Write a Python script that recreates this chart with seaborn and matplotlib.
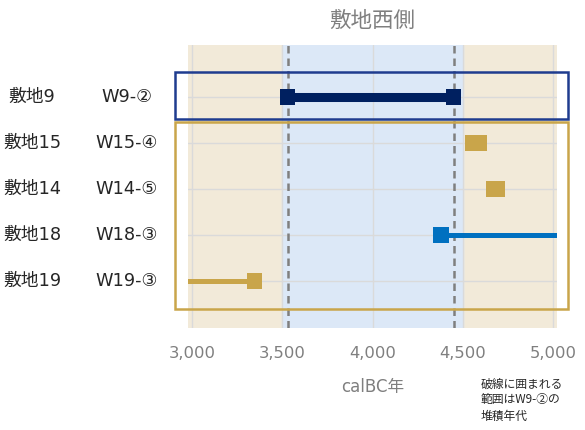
import numpy as np
import pandas as pd
import matplotlib
matplotlib.use("Agg")
import matplotlib.pyplot as plt
import matplotlib.transforms as mtransforms
from matplotlib.patches import Rectangle
import seaborn as sns

sns.set_style("white")
plt.rcParams['font.family'] = ['DejaVu Sans', 'Noto Sans CJK JP']

# data
sites = ['敷地9', '敷地15', '敷地14', '敷地18', '敷地19']
samples = ['W9-②', 'W15-④', 'W14-⑤', 'W18-③', 'W19-③']
start = [3530, 4555, 4670, 4380, 2900]
end = [4450, 4590, 4690, 5100, 3345]
colors = ['#002060', '#C9A54A', '#C9A54A', '#0070C0', '#C9A54A']
xticks = [3000, 3500, 4000, 4500, 5000]
range_lo, range_hi = 3500, 4500
dep_lo, dep_hi = 3530, 4450

df = pd.DataFrame({'sample': samples * 2, 'year': start + end,
                   'row': list(range(5)) * 2, 'color': colors * 2})

fig = plt.figure(figsize=(5.85, 4.3), dpi=100)
ax = fig.add_axes([188/585, (430-328)/430, 369/585, (328-45)/430])
ax.set_facecolor('#F2EAD9')
ax.axvspan(range_lo, range_hi, color='#DCE8F7', zorder=0)

for x in xticks:
    ax.axvline(x, color='#DADADA', lw=1, zorder=1)
for i in range(5):
    ax.axhline(i, color='#DADADA', lw=1, zorder=1)

ax.axvline(dep_lo, color='#7F7F7F', ls=(0, (3, 2)), lw=1.8, zorder=2)
ax.axvline(dep_hi, color='#7F7F7F', ls=(0, (3, 2)), lw=1.8, zorder=2)

# range lines
for i in range(5):
    lw = 6.5 if i == 0 else 3.6
    ax.plot([start[i], end[i]], [i, i], color=colors[i], lw=lw,
            solid_capstyle='butt', zorder=3)

sns.scatterplot(data=df, x='year', y='row', hue='sample',
                palette=dict(zip(samples, colors)), marker='s', s=120,
                linewidth=0, legend=False, zorder=4, ax=ax)

ax.set_xlim(2978, 5022)
ax.set_ylim(5.02, -1.13)
ax.set_xticks(xticks)
ax.set_xticklabels([f'{x:,}' for x in xticks], fontsize=11.8, color='#7F7F7F')
ax.tick_params(axis='x', length=0, pad=13)
ax.set_yticks([])
ax.set_xlabel('calBC年', fontsize=12, color='#7F7F7F', labelpad=12)
ax.set_ylabel('')
ax.set_title('敷地西側', fontsize=15.5, color='#7F7F7F', pad=13,
             family=['Noto Sans CJK JP'])
for s in ax.spines.values():
    s.set_visible(False)

trans = mtransforms.blended_transform_factory(fig.transFigure, ax.transData)
for i in range(5):
    ax.text(32/585, i, sites[i], transform=trans, ha='center', va='center',
            fontsize=12.8, color='#262626')
    ax.text(127/585, i, samples[i], transform=trans, ha='center', va='center',
            fontsize=12.8, color='#262626')

# group boxes
fig.patches.append(Rectangle((175/585, (430-119)/430), 393/585, 47/430,
                             transform=fig.transFigure, fill=False,
                             edgecolor='#1F3C8F', lw=1.8))
fig.patches.append(Rectangle((175/585, (430-309)/430), 393/585, 187/430,
                             transform=fig.transFigure, fill=False,
                             edgecolor='#C9A54A', lw=1.8))

fig.text(481/585, (430-400)/430, '破線に囲まれる\n範囲はW9-②の\n堆積年代',
         ha='left', va='center', fontsize=8.5, color='#262626',
         linespacing=1.3, family=['Noto Sans CJK JP'])

fig.savefig('out.png', dpi=100)
